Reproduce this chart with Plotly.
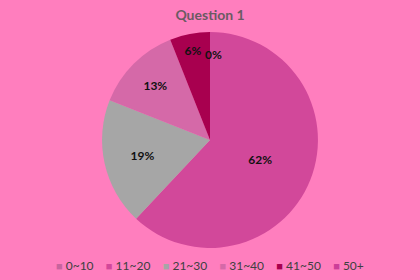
import plotly.graph_objects as go

labels = ["0~10", "11~20", "21~30", "31~40", "41~50", "50+"]
values = [0, 62, 19, 13, 6, 0]
colors = ["#C8649E", "#D2489A", "#A6A6A6", "#D569A8", "#A8004F", "#CC3F99"]
zero_label = "0%"

fig = go.Figure(go.Pie(
    labels=labels,
    values=values,
    sort=False,
    direction="clockwise",
    rotation=0,
    marker=dict(colors=colors, line=dict(width=0)),
    texttemplate="<b>%{percent:.0%}</b>",
    textposition="inside",
    insidetextorientation="horizontal",
    textfont=dict(family="Lato", size=12, color="#111111"),
    domain=dict(x=[0.243, 0.757], y=[0.114, 0.886]),
    showlegend=False,
))

fig.add_annotation(text="<b>" + zero_label + "</b>", x=0.509, y=0.838, xref="paper", yref="paper",
                   showarrow=False, font=dict(family="Lato", size=12, color="#111111"))

# legend row built from the category names and colours
items = []
for lab, col in zip(labels, colors):
    items.append("<span style='color:%s;font-size:11px'>■</span> %s" % (col, lab))
legend_text = "&nbsp;&nbsp;&nbsp;&nbsp;".join(items)
fig.add_annotation(text=legend_text, x=0.5, y=1 - 265 / 280, xref="paper", yref="paper",
                   xanchor="center", yanchor="middle", showarrow=False,
                   font=dict(family="Lato", size=12, color="#404040"))

fig.update_layout(
    width=420, height=280,
    margin=dict(l=0, r=0, t=0, b=0),
    paper_bgcolor="#FF7EBE",
    plot_bgcolor="#FF7EBE",
    title=dict(text="<b>Question 1</b>", x=0.5, xanchor="center", y=0.945, yanchor="middle",
               font=dict(family="Lato", size=14, color="#6B5A63")),
    uniformtext=dict(minsize=8),
)

fig.write_html("out.html")
